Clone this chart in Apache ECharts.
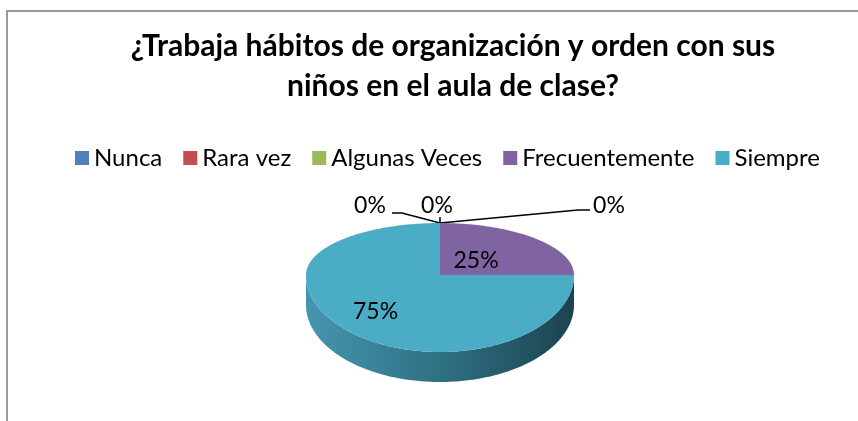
<!DOCTYPE html>
<html>
<head>
<meta charset="utf-8">
<script src="https://cdn.jsdelivr.net/npm/echarts@6/dist/echarts.min.js"></script>
<style>
  html, body { margin: 0; padding: 0; background: #fff; }
</style>
</head>
<body>
<div style="width:858px;height:421px;" id="habitos_pie"></div>
<script>
  // datos
  var categorias = ['Nunca', 'Rara vez', 'Algunas Veces', 'Frecuentemente', 'Siempre']
  var porcentajes = [0, 0, 0, 25, 75]
  var colores = ['#4F81BD', '#C0504D', '#9BBB59', '#8064A2', '#4BACC6']

  // geometria del pastel "3D"
  var cx = 440, cy = 275, rx = 134, ryTop = 52, ryBot = 77, depth = 30
  var fontName = 'Lato, "Open Sans", sans-serif'
  // donde va cada etiqueta: fraccion del radio, o linea guia para los 0%
  var labelPos = [
    {line: [[138, -13], [150, -13]], text: [169, -17]},
    {line: [[0, -6]], text: [-3, -17]},
    {line: [[-38, -10], [-48, -10]], text: [-70, -17]},
    {frac: 0.38},
    {frac: 0.68}
  ]

  var total = porcentajes.reduce(function (a, b) { return a + b }, 0)
  var acum = [0]
  porcentajes.forEach(function (v, i) { acum.push(acum[i] + v) })

  function punto(t, dy) {
    var c = Math.cos(t)
    return [cx + rx * Math.sin(t), cy - (c > 0 ? ryTop : ryBot) * c + (dy || 0)]
  }
  function arco(a0, a1, dy) {
    var pts = []
    var n = Math.max(2, Math.ceil((a1 - a0) / (Math.PI / 180)))
    for (var k = 0; k <= n; k++) pts.push(punto(a0 + (a1 - a0) * k / n, dy))
    return pts
  }

  function renderSlice(idx) {
    return function (params, api) {
      var a0 = acum[idx] / total * Math.PI * 2
      var a1 = acum[idx + 1] / total * Math.PI * 2
      var children = []
      // lado visible (mitad frontal)
      var s0 = Math.max(a0, Math.PI / 2), s1 = Math.min(a1, Math.PI * 1.5)
      if (s1 > s0) {
        var pts = arco(s0, s1, 0).concat(arco(s0, s1, depth).reverse())
        children.push({
          type: 'polygon',
          shape: {points: pts},
          style: {
            fill: {
              type: 'linear', x: 0, y: 0, x2: 1, y2: 0,
              colorStops: [
                {offset: 0, color: '#4596ae'},
                {offset: 0.5, color: '#2f7083'},
                {offset: 1, color: '#1c4350'}
              ]
            }
          }
        })
      }
      if (a1 > a0) {
        children.push({
          type: 'polygon',
          shape: {points: [[cx, cy]].concat(arco(a0, a1, 0))},
          style: {fill: colores[idx]}
        })
      }
      var txt = Math.round(api.value(0) / total * 100) + '%'
      var lp = labelPos[idx]
      var tx, ty
      if (lp.frac) {
        var p = punto((a0 + a1) / 2, 0)
        tx = cx + (p[0] - cx) * lp.frac
        ty = cy + (p[1] - cy) * lp.frac
      } else {
        var anc = punto((a0 + a1) / 2, 0)
        var linea = [anc].concat(lp.line.map(function (o) { return [anc[0] + o[0], anc[1] + o[1]] }))
        children.push({
          type: 'polyline',
          shape: {points: linea},
          style: {stroke: '#000', lineWidth: 1.5, fill: null}
        })
        tx = anc[0] + lp.text[0]
        ty = anc[1] + lp.text[1]
      }
      children.push({
        type: 'text',
        z2: 10,
        style: {
          text: txt, x: tx, y: ty,
          fill: '#000', fontSize: 23, fontFamily: fontName,
          align: 'center', verticalAlign: 'middle',
          textAlign: 'center', textVerticalAlign: 'middle'
        }
      })
      return {type: 'group', children: children}
    }
  }

  var series = []
  categorias.forEach(function (nombre, i) {
    series.push({
      name: nombre,
      type: 'custom',
      coordinateSystem: 'none',
      silent: true,
      itemStyle: {color: colores[i]},
      renderItem: renderSlice(i),
      data: [[porcentajes[i]]]
    })
  })

  var chart = echarts.init(document.getElementById('habitos_pie'))
  chart.setOption({
    backgroundColor: '#fff',
    animation: false,
    title: {
      text: '¿Trabaja hábitos de organización y orden con sus\nniños en el aula de clase?',
      left: 448,
      textAlign: 'center',
      top: 21,
      textStyle: {
        fontFamily: fontName,
        fontWeight: 'bold',
        fontSize: 30,
        lineHeight: 40,
        color: '#000'
      }
    },
    legend: {
      data: categorias,
      left: 70,
      top: 141,
      icon: 'rect',
      itemWidth: 14,
      itemHeight: 14,
      itemGap: 21,
      textStyle: {fontFamily: fontName, fontSize: 24, color: '#000', padding: [0, 0, 0, 0]}
    },
    graphic: [
      {type: 'polyline', shape: {points: [[7, 421], [7, 11], [858, 11]]}, style: {stroke: '#9a9a9a', lineWidth: 2, fill: null}, silent: true}
    ],
    series: series
  })
</script>
</body>
</html>
